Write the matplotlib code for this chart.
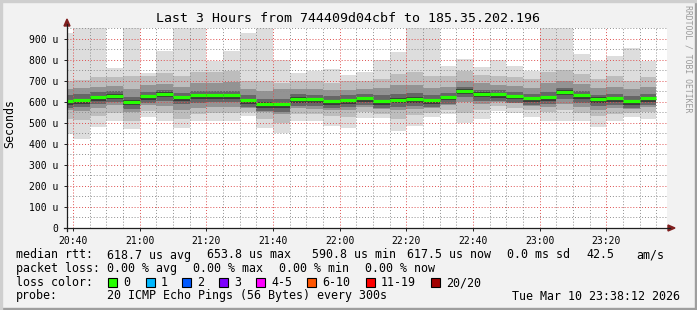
import matplotlib
matplotlib.use("Agg")
import matplotlib.pyplot as plt
import matplotlib.dates as mdates
from matplotlib.patches import Rectangle, Polygon
from matplotlib.lines import Line2D
import pandas as pd

W, H = 697, 310
MONO = "DejaVu Sans Mono"

# each bar is a 5 minute step ending at this time
bar_end = pd.date_range("2026-03-10 20:40", "2026-03-10 23:35", freq="5min")

median = [603, 607, 622, 629, 598, 625, 638, 622, 631, 631, 631, 607,
          591, 588, 614, 612, 601, 608, 616, 603, 610, 614, 608, 622,
          653, 638, 635, 627, 616, 622, 647, 630, 613, 617, 601, 617]
rtt_max = [925, 950, 950, 760, 950, 737, 840, 950, 950, 792, 839, 925,
           950, 800, 737, 745, 753, 729, 741, 800, 836, 950, 950, 768,
           804, 763, 800, 768, 748, 950, 950, 826, 792, 815, 854, 792]
rtt_min = [448, 424, 481, 509, 471, 525, 509, 477, 509, 509, 509, 532,
           477, 449, 509, 509, 485, 476, 521, 521, 462, 485, 525, 541,
           501, 518, 556, 548, 525, 509, 509, 509, 481, 509, 525, 518]
hi2 = [700, 705, 715, 715, 720, 720, 735, 720, 740, 740, 745, 700,
       700, 690, 700, 700, 690, 700, 700, 710, 730, 740, 720, 720,
       745, 725, 720, 715, 710, 740, 750, 730, 710, 720, 700, 715]
lo2 = [520, 515, 530, 545, 510, 555, 545, 520, 540, 545, 545, 550,
       520, 500, 540, 540, 530, 525, 550, 540, 520, 535, 545, 560,
       545, 560, 580, 570, 560, 550, 560, 545, 530, 540, 545, 550]
hi3 = [660, 665, 670, 675, 660, 680, 685, 670, 690, 690, 695, 660,
       650, 660, 660, 660, 655, 655, 660, 665, 680, 680, 665, 670,
       700, 690, 680, 675, 665, 690, 700, 685, 665, 670, 660, 670]
lo3 = [560, 555, 570, 585, 550, 585, 580, 560, 570, 575, 575, 570,
       550, 540, 570, 565, 560, 560, 575, 565, 560, 565, 570, 585,
       600, 590, 600, 595, 580, 575, 590, 575, 560, 570, 565, 575]
hi4 = [630, 635, 645, 650, 620, 645, 655, 640, 650, 650, 650, 630,
       615, 615, 635, 630, 625, 630, 635, 630, 635, 640, 630, 640,
       670, 655, 655, 645, 635, 645, 665, 650, 630, 635, 625, 635]
lo4 = [572, 575, 590, 597, 566, 594, 604, 588, 596, 598, 597, 576,
       556, 552, 580, 580, 568, 574, 585, 570, 576, 580, 576, 590,
       620, 604, 604, 596, 584, 588, 612, 596, 580, 585, 570, 585]
hi5 = [610, 614, 628, 636, 606, 632, 644, 629, 638, 637, 638, 613,
       598, 596, 620, 619, 608, 614, 622, 610, 617, 621, 615, 628,
       659, 645, 641, 634, 622, 629, 654, 637, 620, 623, 608, 624]
lo5 = [586, 590, 605, 612, 582, 609, 620, 604, 612, 614, 613, 590,
       572, 568, 596, 595, 583, 590, 600, 586, 592, 596, 591, 606,
       636, 620, 619, 611, 600, 604, 630, 612, 596, 600, 585, 600]

loss_labels = ["0", "1", "2", "3", "4-5", "6-10", "11-19", "20/20"]
loss_colors = ["#26ff00", "#00b8ff", "#0059ff", "#7e00ff", "#ff00ff",
               "#ff5500", "#ff0000", "#a10000"]


def fx(x):
    return x / W


def fy(y):
    return 1 - y / H


fig = plt.figure(figsize=(W / 100, H / 100), dpi=100, facecolor="#f2f2f2")
ax = fig.add_axes([fx(67), fy(228), 600 / W, 200 / H])
ax.set_facecolor("white")

left = mdates.date2num(bar_end - pd.Timedelta(minutes=5))
width = 5 / 1440

# smoke: outer pings lightest, pings near the median darkest
bands = [(rtt_min, rtt_max, "#dddddd"), (lo2, hi2, "#bdbdbd"),
         (lo3, hi3, "#939393"), (lo4, hi4, "#666666"), (lo5, hi5, "#3a3a3a")]
for lo, hi, col in bands:
    ax.bar(left, [h - l for h, l in zip(hi, lo)], width=width, bottom=lo,
           align="edge", color=col, linewidth=0, zorder=1)

ax.hlines(median, left, left + width, colors="#26ff00", linewidth=2.3, zorder=4)

t0 = pd.Timestamp("2026-03-10 20:38:12")
t1 = pd.Timestamp("2026-03-10 23:38:12")
ax.set_xlim(mdates.date2num(t0), mdates.date2num(t1))
ax.set_ylim(0, 942.5)

ax.xaxis.set_major_locator(mdates.MinuteLocator(byminute=[0, 20, 40]))
ax.xaxis.set_minor_locator(mdates.MinuteLocator(byminute=range(0, 60, 5)))
ax.xaxis.set_major_formatter(mdates.DateFormatter("%H:%M"))
ax.set_yticks(range(0, 901, 100))
ax.set_yticks(range(50, 951, 100), minor=True)
ax.yaxis.set_major_formatter(lambda v, p: "0" if v == 0 else f"{v:.0f} u")

ax.grid(which="minor", color=(0.56, 0.56, 0.56, 0.6), linestyle=(0, (1, 2)),
        linewidth=0.7, zorder=3)
ax.grid(which="major", color=(0.87, 0.31, 0.31, 0.6), linestyle=(0, (1, 2)),
        linewidth=0.7, zorder=3)
ax.set_axisbelow(False)

for s in ax.spines.values():
    s.set_visible(False)
ax.tick_params(which="major", length=2, width=0.7, color="#1f1f1f",
               labelsize=7, pad=4)
ax.tick_params(which="minor", length=0)
for lab in ax.get_xticklabels() + ax.get_yticklabels():
    lab.set_family(MONO)

# axis lines and arrows
fig.add_artist(Line2D([fx(64), fx(670)], [fy(228), fy(228)], color="#1f1f1f", lw=0.9))
fig.add_artist(Line2D([fx(67), fx(67)], [fy(231), fy(24)], color="#1f1f1f", lw=0.9))
arrow = (0.5, 0.12, 0.12)
fig.add_artist(Polygon([[fx(64), fy(26)], [fx(70), fy(26)], [fx(67), fy(19)]],
                       closed=True, color=arrow, transform=fig.transFigure))
fig.add_artist(Polygon([[fx(668), fy(225)], [fx(668), fy(231)], [fx(675), fy(228)]],
                       closed=True, color=arrow, transform=fig.transFigure))

# frame shading
fig.add_artist(Rectangle((0, 0), 1, fy(308), color="#9e9e9e", transform=fig.transFigure))
fig.add_artist(Rectangle((fx(695), 0), fx(2), 1, color="#9e9e9e", transform=fig.transFigure))
fig.add_artist(Rectangle((0, fy(2)), 1, fy(0) - fy(2), color="#cfcfcf", transform=fig.transFigure))
fig.add_artist(Rectangle((0, 0), fx(2), 1, color="#cfcfcf", transform=fig.transFigure))

fig.text(fx(348.5), fy(19), "Last 3 Hours from 744409d04cbf to 185.35.202.196",
         family=MONO, fontsize=9.5, ha="center", va="center")
fig.text(fx(10), fy(124), "Seconds", family=MONO, fontsize=8.4, rotation=90,
         ha="center", va="center")
fig.text(fx(688), fy(59), "RRDTOOL / TOBI OETIKER", family=MONO, fontsize=5.9,
         rotation=270, ha="center", va="center", color="#9a9a9a")

fs = 8.4
row1 = [(16, "median rtt:"), (107, "618.7 us avg"), (207, "653.8 us max"),
        (312, "590.8 us min"), (407, "617.5 us now"), (507, "0.0 ms sd"),
        (586, "42.5"), (636, "am/s")]
row2 = [(16, "packet loss:"), (107, "0.00 % avg"), (193, "0.00 % max"),
        (279, "0.00 % min"), (365, "0.00 % now")]
for x, s in row1:
    fig.text(fx(x), fy(255), s, family=MONO, fontsize=fs, va="center")
for x, s in row2:
    fig.text(fx(x), fy(268.5), s, family=MONO, fontsize=fs, va="center")

fig.text(fx(16), fy(282.5), "loss color:", family=MONO, fontsize=fs, va="center")
box_x = [108, 146, 182, 219, 256, 307, 366, 431]
for bx, lab, col in zip(box_x, loss_labels, loss_colors):
    fig.add_artist(Rectangle((fx(bx), fy(287)), 9 / W, 9 / H, facecolor=col,
                             edgecolor="black", linewidth=0.8,
                             transform=fig.transFigure))
    fig.text(fx(bx + 15), fy(282.5), lab, family=MONO, fontsize=fs, va="center")

fig.text(fx(16), fy(296), "probe:", family=MONO, fontsize=fs, va="center")
fig.text(fx(107), fy(296), "20 ICMP Echo Pings (56 Bytes) every 300s",
         family=MONO, fontsize=fs, va="center")
fig.text(fx(680), fy(296), "Tue Mar 10 23:38:12 2026", family=MONO,
         fontsize=fs, va="center", ha="right")

fig.savefig("out.png", dpi=100, facecolor=fig.get_facecolor())
